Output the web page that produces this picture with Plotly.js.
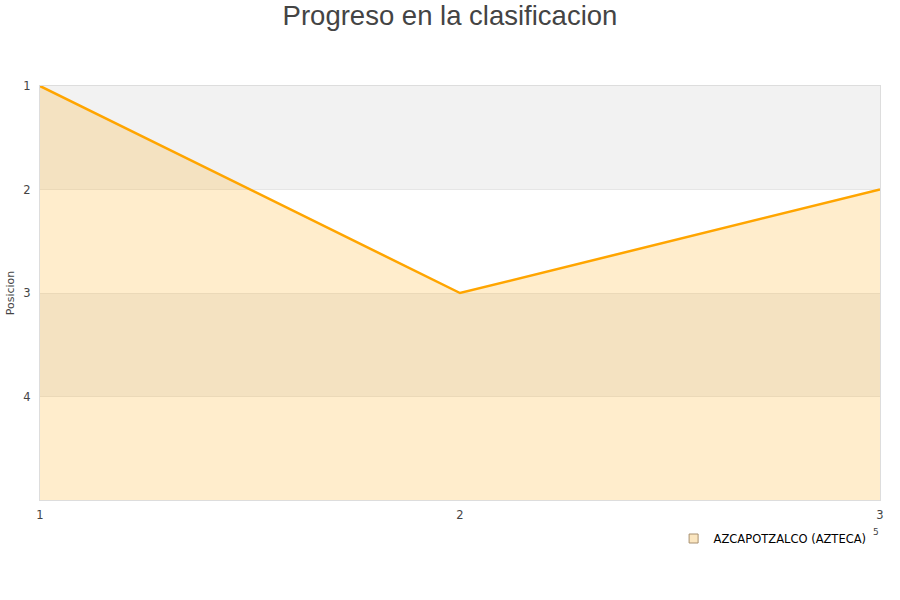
<!DOCTYPE html>
<html>
<head>
<meta charset="utf-8">
<script src="https://cdn.plot.ly/plotly-3.0.1.min.js"></script>
<style>html,body{margin:0;padding:0;background:#fff;}#chart{width:900px;height:600px;}</style>
</head>
<body>
<div id="chart"></div>
<script>
var jornadas = [1, 2, 3];
var posiciones = [1, 3, 2];
var baseline = [5, 5, 5];
var teamName = 'AZCAPOTZALCO (AZTECA)';
var chartTitle = 'Progreso en la clasificacion';
var yTitle = 'Posicion';
var yTicks = [1, 2, 3, 4];
var grayBands = [[1, 2], [3, 4]];

var shapes = grayBands.map(function (b) {
  return {type: 'rect', xref: 'paper', yref: 'y', x0: 0, x1: 1, y0: b[0], y1: b[1],
    fillcolor: '#f2f2f2', line: {width: 0}, layer: 'below'};
});

var data = [
  {x: jornadas, y: baseline, mode: 'lines', line: {width: 0}, showlegend: false, hoverinfo: 'skip'},
  {x: jornadas, y: posiciones, mode: 'lines', fill: 'tonexty', fillcolor: 'rgba(255,165,0,0.2)',
    line: {color: '#ffa500', width: 2.5}, showlegend: false, name: teamName},
  {x: [null], y: [null], mode: 'markers', name: teamName,
    marker: {symbol: 'square', size: 9, color: '#fbe6c0', line: {color: '#a89070', width: 1}}}
];

var layout = {
  width: 900, height: 600,
  paper_bgcolor: '#fff', plot_bgcolor: 'rgba(0,0,0,0)',
  margin: {l: 40, r: 20, t: 86, b: 100},
  title: {text: chartTitle, font: {family: 'Liberation Sans, Arial, sans-serif', size: 27.5, color: '#444'},
    x: 0.5, xanchor: 'center', y: 0.975, yanchor: 'middle'},
  font: {family: 'DejaVu Sans, sans-serif', size: 11, color: '#444'},
  xaxis: {range: [1, 3], tickvals: jornadas, ticks: '', showgrid: false, zeroline: false,
    showline: true, linecolor: '#ddd', mirror: true, ticklabelstandoff: 4,
    tickfont: {size: 11.5, color: '#444'}},
  yaxis: {range: [5, 1], tickvals: yTicks, ticks: '', showgrid: true, gridcolor: '#e6e6e6',
    zeroline: false, showline: true, linecolor: '#ddd', mirror: true, ticklabelstandoff: 6,
    title: {text: yTitle, font: {size: 11, color: '#444'}, standoff: 6},
    tickfont: {size: 11.5, color: '#444'}},
  shapes: shapes,
  showlegend: true,
  legend: {orientation: 'h', x: 0.99, xanchor: 'right', y: -0.058, yanchor: 'top',
    font: {size: 11.5, color: '#000'}, bgcolor: 'rgba(0,0,0,0)'},
  annotations: [{text: '5', xref: 'paper', yref: 'paper', x: 0.995, y: -0.078, showarrow: false,
    font: {size: 9, color: '#444'}, xanchor: 'center', yanchor: 'middle'}]
};

Plotly.newPlot('chart', data, layout, {displayModeBar: false});
</script>
</body>
</html>
